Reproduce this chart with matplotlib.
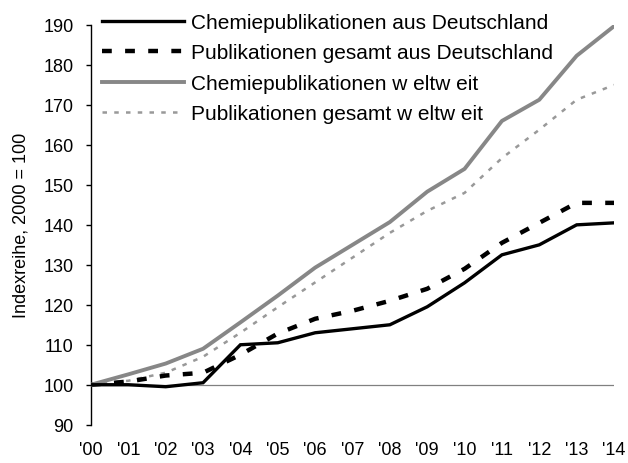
"""Publikationsindex Chemie vs. gesamt, Deutschland und weltweit (2000 = 100)."""

import matplotlib
matplotlib.use("Agg")
import matplotlib.pyplot as plt

years = ["'00", "'01", "'02", "'03", "'04", "'05", "'06", "'07",
         "'08", "'09", "'10", "'11", "'12", "'13", "'14"]

chem_de = [100, 100, 99.5, 100.5, 110, 110.5, 113, 114, 115, 119.5,
           125.5, 132.5, 135, 140, 140.5]
pub_de = [100, 100.8, 102.3, 103, 107.5, 112.8, 116.5, 118.5, 121, 124,
          129, 135.5, 140.5, 145.5, 145.5]
chem_world = [100, 102.6, 105.3, 109, 115.6, 122.3, 129.3, 135, 140.7,
              148.3, 154, 166, 171.3, 182.3, 189.7]
pub_world = [100, 101, 103, 107, 113, 119.4, 125.6, 131.8, 138, 143.5,
             148, 156.7, 163.8, 171.3, 175]

labels = [
    "Chemiepublikationen aus Deutschland",
    "Publikationen gesamt aus Deutschland",
    "Chemiepublikationen w eltw eit",
    "Publikationen gesamt w eltw eit",
]

plt.rcParams.update({
    "font.family": ["Liberation Sans", "DejaVu Sans"],
    "font.size": 13,
})

fig = plt.figure(figsize=(6.28, 4.64), dpi=100)
ax = fig.add_axes([91 / 628, 1 - 425.7 / 464, 523 / 628, 399.7 / 464])

x = list(range(len(years)))

ax.axhline(100, color="#808080", linewidth=0.9, zorder=1)

ax.plot(x, chem_de, color="black", linewidth=2.4, label=labels[0],
        solid_joinstyle="miter", zorder=4)
ax.plot(x, pub_de, color="black", linewidth=3.2, dashes=(2.2, 3.0),
        label=labels[1], zorder=3)
ax.plot(x, chem_world, color="#878787", linewidth=2.8, label=labels[2],
        zorder=3)
ax.plot(x, pub_world, color="#999999", linewidth=1.8, dashes=(1.8, 2.9),
        label=labels[3], zorder=2)

ax.set_xlim(0, 14)
ax.set_ylim(90, 190)
ax.set_yticks(range(90, 191, 10))
ax.set_xticks(x)
ax.set_xticklabels(years)

for side in ("top", "right", "bottom"):
    ax.spines[side].set_visible(False)
ax.spines["left"].set_linewidth(1.0)
ax.tick_params(axis="y", direction="out", length=3.6, width=1.0, pad=9)
ax.tick_params(axis="x", length=0, pad=12)

ax.set_ylabel("Indexreihe, 2000 = 100", labelpad=10)

ax.legend(
    loc="upper left",
    bbox_to_anchor=(102 / 628, 1 - 14 / 464),
    bbox_transform=fig.transFigure,
    frameon=False,
    fontsize=15,
    borderpad=0,
    borderaxespad=0,
    handlelength=3.95,
    handletextpad=0.3,
    labelspacing=0.55,
)

fig.savefig("out.png", dpi=100)
